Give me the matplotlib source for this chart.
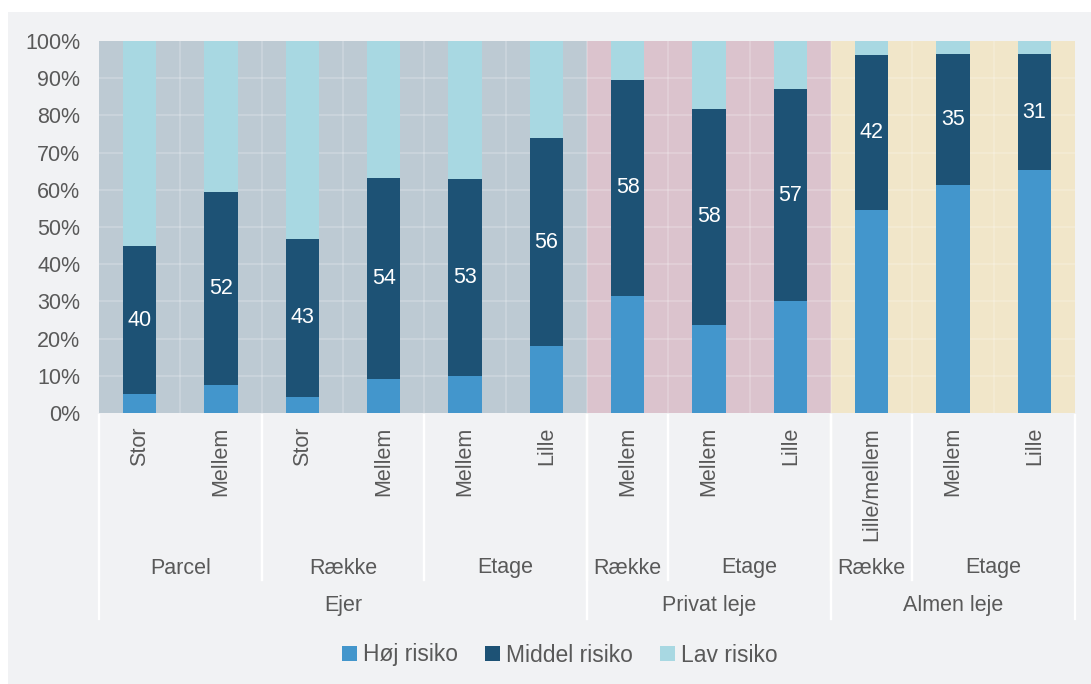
import matplotlib
matplotlib.use("Agg")
from matplotlib import pyplot as plt
from matplotlib import transforms
from matplotlib.lines import Line2D
from matplotlib.patches import Rectangle
import numpy as np

plt.rcParams['font.family'] = ['Liberation Sans', 'DejaVu Sans']

# ---- data ----
sizes = ["Stor", "Mellem", "Stor", "Mellem", "Mellem", "Lille",
         "Mellem", "Mellem", "Lille", "Lille/mellem", "Mellem", "Lille"]
hoej = [5.0, 7.5, 4.3, 9.2, 10.0, 18.0, 31.5, 23.7, 30.0, 54.6, 61.2, 65.3]
middel = [39.8, 51.8, 42.6, 54.0, 52.9, 55.9, 58.0, 58.0, 57.1, 41.6, 35.3, 31.2]
lav = [100 - h - m for h, m in zip(hoej, middel)]

# (label, first bar, last bar)
types = [("Parcel", 0, 1), ("Række", 2, 3), ("Etage", 4, 5),
         ("Række", 6, 6), ("Etage", 7, 8),
         ("Række", 9, 9), ("Etage", 10, 11)]
owners = [("Ejer", 0, 5), ("Privat leje", 6, 8), ("Almen leje", 9, 11)]
owner_bg = ["#bdcad3", "#dbc3cd", "#f1e6c9"]

c_hoej = "#4396cc"
c_middel = "#1d5275"
c_lav = "#a8d8e2"
txt = "#595959"
fs = 15.5

W, H = 1091, 684
fig = plt.figure(figsize=(W / 100, H / 100), dpi=100)
fig.patch.set_facecolor("white")
fig.patches.append(Rectangle((8 / W, 0), 1, 1 - 12 / H, transform=fig.transFigure,
                             facecolor="#f1f2f4", edgecolor="none", zorder=-10))

ax_l, ax_r, ax_t, ax_b = 99, 1075, 41, 413
ax = fig.add_axes([ax_l / W, 1 - ax_b / H, (ax_r - ax_l) / W, (ax_b - ax_t) / H])
n = len(sizes)
x = np.arange(n)
ax.set_xlim(-0.5, n - 0.5)
ax.set_ylim(0, 100)

# group backgrounds and grid
for (name, a, b), bg in zip(owners, owner_bg):
    ax.axvspan(a - 0.5, b + 0.5, color=bg, zorder=0, lw=0)
for yv in range(10, 100, 10):
    ax.axhline(yv, color="white", alpha=0.22, lw=1.2, zorder=1)
for xv in np.arange(0.5, n - 0.5, 1):
    ax.axvline(xv, color="white", alpha=0.22, lw=1.2, zorder=1)

bw = 0.41
ax.bar(x, hoej, bw, color=c_hoej, zorder=2, label="Høj risiko")
ax.bar(x, middel, bw, bottom=hoej, color=c_middel, zorder=2, label="Middel risiko")
ax.bar(x, lav, bw, bottom=np.array(hoej) + np.array(middel), color=c_lav, zorder=2,
       label="Lav risiko")

for i in range(n):
    ax.text(x[i], hoej[i] + middel[i] / 2, f"{middel[i]:.0f}", color="white",
            fontsize=fs, ha="center", va="center", zorder=3)

ax.set_yticks(range(0, 101, 10))
ax.set_yticklabels([f"{v}%" for v in range(0, 101, 10)], color=txt, fontsize=fs)
ax.tick_params(axis="y", length=0, pad=13.5)
ax.set_xticks([])
for s in ax.spines.values():
    s.set_visible(False)

# multi level x axis
trans = transforms.blended_transform_factory(ax.transData, fig.transFigure)
for i, lab in enumerate(sizes):
    ax.text(x[i], 1 - 427 / H, lab, rotation=90, ha="center", va="top",
            color=txt, fontsize=fs, transform=trans)
for lab, a, b in types:
    ax.text((a + b) / 2, 1 - 568 / H, lab, ha="center", va="center",
            color=txt, fontsize=fs, transform=trans)
for lab, a, b in owners:
    ax.text((a + b) / 2, 1 - 605 / H, lab, ha="center", va="center",
            color=txt, fontsize=fs, transform=trans)

y_ax = 1 - 415 / H
for lab, a, b in types:
    for edge in (a - 0.5, b + 0.5):
        fig.add_artist(Line2D([edge, edge], [y_ax, 1 - 580 / H], transform=trans,
                              color="white", lw=1.6))
for lab, a, b in owners:
    for edge in (a - 0.5, b + 0.5):
        fig.add_artist(Line2D([edge, edge], [y_ax, 1 - 619 / H], transform=trans,
                              color="white", lw=1.6))

leg = fig.legend(loc="center", bbox_to_anchor=(560 / W, 1 - 655 / H), ncol=3,
                 frameon=False, fontsize=16.5, handlelength=0.65, handleheight=0.65,
                 handletextpad=0.25, columnspacing=1.2)
for t in leg.get_texts():
    t.set_color(txt)

fig.savefig("out.png", dpi=100, facecolor=fig.get_facecolor())
